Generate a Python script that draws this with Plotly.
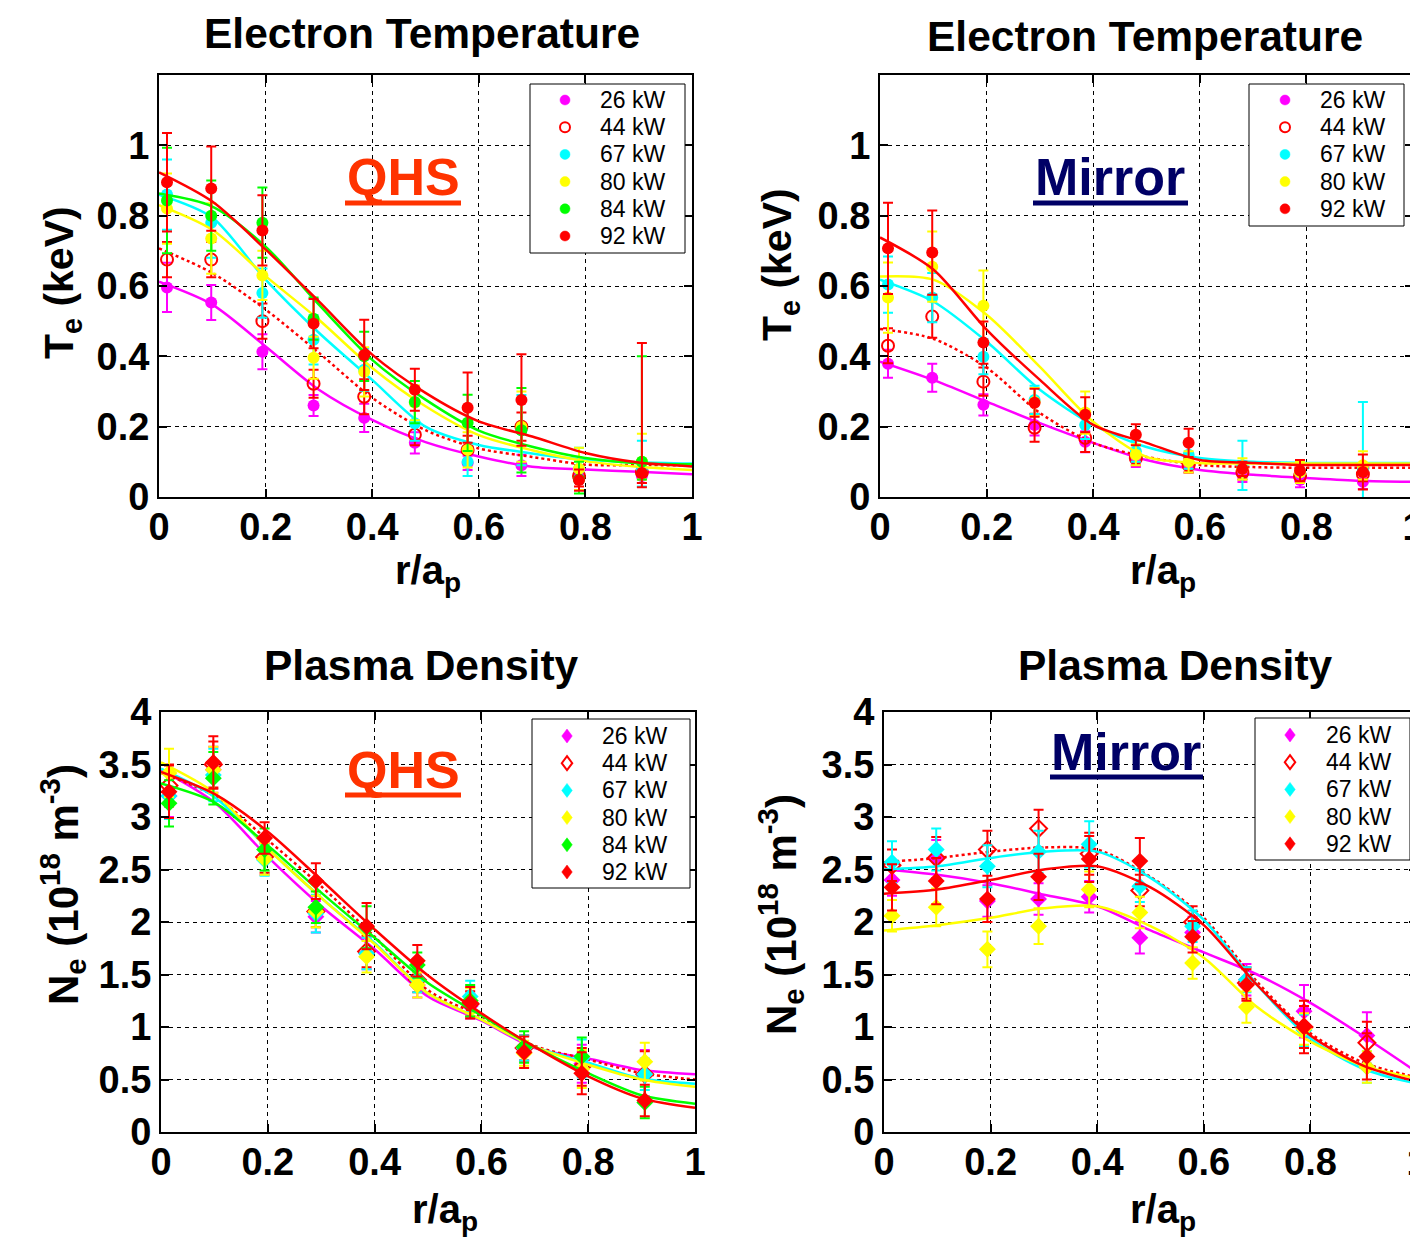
import plotly.graph_objects as go

# page body has an 8px margin; figure is sized to fill the rest of the window
OFF = 8
W, H = 1418 - OFF, 1239 - OFF

# ---------------- data ----------------
series = ["26", "44", "67", "80", "84", "92"]
legend_labels = ["26 kW", "44 kW", "67 kW", "80 kW", "84 kW", "92 kW"]
r_data = [0.015, 0.098, 0.194, 0.29, 0.385, 0.48, 0.579, 0.68, 0.788, 0.906]
r_fit = [0.0, 0.1, 0.2, 0.3, 0.4, 0.5, 0.6, 0.7, 0.8, 0.9, 1.0]

x_ticks = [0, 0.2, 0.4, 0.6, 0.8, 1]
x_ticktext = ["0", "0.2", "0.4", "0.6", "0.8", "1"]
te_ticks = [0, 0.2, 0.4, 0.6, 0.8, 1]
te_ticktext = ["0", "0.2", "0.4", "0.6", "0.8", "1"]
ne_ticks = [0, 0.5, 1, 1.5, 2, 2.5, 3, 3.5, 4]
ne_ticktext = ["0", "0.5", "1", "1.5", "2", "2.5", "3", "3.5", "4"]

# QHS electron temperature (keV)
te_qhs = {
    "26": [0.596, 0.553, 0.413, 0.26, 0.225, 0.154, 0.097, 0.09, 0.06, 0.06],
    "44": [0.675, 0.675, 0.50, 0.322, 0.285, 0.177, 0.134, 0.20, 0.06, 0.07],
    "67": [0.86, 0.78, 0.58, 0.447, 0.362, 0.21, 0.10, 0.19, 0.08, 0.08],
    "80": [0.82, 0.735, 0.63, 0.396, 0.356, 0.268, 0.134, 0.20, 0.08, 0.10],
    "84": [0.843, 0.80, 0.78, 0.507, 0.40, 0.27, 0.211, 0.19, 0.05, 0.10],
    "92": [0.895, 0.877, 0.758, 0.493, 0.404, 0.305, 0.254, 0.276, 0.048, 0.068],
}
te_qhs_err = {
    "26": [0.07, 0.05, 0.05, 0.03, 0.04, 0.03, 0.02, 0.03, 0.02, 0.02],
    "44": [0.05, 0.05, 0.05, 0.04, 0.05, 0.03, 0.04, 0.04, 0.03, 0.03],
    "67": [0.10, 0.10, 0.07, 0.07, 0.06, 0.05, 0.04, 0.10, 0.06, 0.08],
    "80": [0.10, 0.10, 0.07, 0.06, 0.07, 0.05, 0.05, 0.10, 0.06, 0.08],
    "84": [0.15, 0.10, 0.10, 0.06, 0.07, 0.06, 0.08, 0.12, 0.05, 0.30],
    "92": [0.14, 0.12, 0.10, 0.07, 0.10, 0.06, 0.10, 0.13, 0.03, 0.37],
}
te_qhs_errm = {
    "26": [0.07, 0.05, 0.05, 0.03, 0.04, 0.03, 0.02, 0.03, 0.02, 0.02],
    "44": [0.05, 0.05, 0.05, 0.04, 0.05, 0.03, 0.04, 0.04, 0.03, 0.03],
    "67": [0.10, 0.10, 0.07, 0.07, 0.06, 0.05, 0.04, 0.10, 0.06, 0.05],
    "80": [0.10, 0.10, 0.07, 0.06, 0.07, 0.05, 0.05, 0.10, 0.06, 0.05],
    "84": [0.15, 0.10, 0.10, 0.06, 0.07, 0.06, 0.08, 0.12, 0.04, 0.05],
    "92": [0.14, 0.12, 0.10, 0.07, 0.10, 0.06, 0.10, 0.13, 0.03, 0.04],
}
te_qhs_fit = {
    "26": [0.612, 0.547, 0.428, 0.305, 0.219, 0.156, 0.115, 0.086, 0.078, 0.072, 0.065],
    "44": [0.707, 0.637, 0.533, 0.41, 0.282, 0.19, 0.138, 0.114, 0.092, 0.091, 0.090],
    "67": [0.86, 0.795, 0.618, 0.467, 0.333, 0.20, 0.148, 0.124, 0.106, 0.099, 0.095],
    "80": [0.83, 0.76, 0.628, 0.504, 0.367, 0.258, 0.176, 0.133, 0.102, 0.086, 0.077],
    "84": [0.863, 0.826, 0.712, 0.547, 0.39, 0.277, 0.189, 0.143, 0.111, 0.096, 0.093],
    "92": [0.923, 0.84, 0.704, 0.556, 0.405, 0.296, 0.215, 0.172, 0.125, 0.098, 0.087],
}

# Mirror electron temperature (keV)
te_mir = {
    "26": [0.379, 0.339, 0.262, 0.205, 0.157, 0.105, 0.09, 0.063, 0.048, 0.043],
    "44": [0.43, 0.513, 0.328, 0.197, 0.168, 0.11, 0.09, 0.07, 0.06, 0.065],
    "67": [0.604, 0.567, 0.399, 0.276, 0.205, 0.13, 0.12, 0.09, 0.07, 0.08],
    "80": [0.567, 0.655, 0.544, 0.27, 0.24, 0.12, 0.10, 0.08, 0.07, 0.09],
    "92": [0.707, 0.695, 0.439, 0.268, 0.234, 0.177, 0.154, 0.08, 0.075, 0.071],
}
te_mir_err = {
    "26": [0.04, 0.04, 0.03, 0.03, 0.03, 0.02, 0.02, 0.02, 0.02, 0.02],
    "44": [0.05, 0.06, 0.04, 0.04, 0.04, 0.02, 0.02, 0.02, 0.02, 0.02],
    "67": [0.08, 0.07, 0.05, 0.04, 0.04, 0.03, 0.04, 0.07, 0.03, 0.19],
    "80": [0.10, 0.10, 0.10, 0.04, 0.06, 0.03, 0.03, 0.03, 0.03, 0.04],
    "92": [0.13, 0.12, 0.06, 0.04, 0.05, 0.03, 0.04, 0.02, 0.03, 0.05],
}
te_mir_fit = {
    "26": [0.385, 0.333, 0.271, 0.21, 0.154, 0.105, 0.077, 0.063, 0.054, 0.046, 0.043],
    "44": [0.478, 0.45, 0.368, 0.239, 0.154, 0.114, 0.091, 0.085, 0.083, 0.083, 0.083],
    "67": [0.618, 0.556, 0.442, 0.305, 0.205, 0.142, 0.111, 0.10, 0.097, 0.097, 0.097],
    "80": [0.627, 0.618, 0.518, 0.37, 0.214, 0.114, 0.097, 0.095, 0.095, 0.095, 0.095],
    "92": [0.738, 0.647, 0.476, 0.333, 0.205, 0.154, 0.105, 0.097, 0.091, 0.091, 0.091],
}

# QHS plasma density (1e18 m^-3)
ne_qhs = {
    "26": [3.20, 3.45, 2.60, 2.05, 1.70, 1.40, 1.20, 0.80, 0.65, 0.56],
    "44": [3.30, 3.50, 2.62, 2.10, 1.72, 1.45, 1.22, 0.80, 0.62, 0.55],
    "67": [3.20, 3.40, 2.59, 2.08, 1.70, 1.45, 1.29, 0.80, 0.70, 0.55],
    "80": [3.42, 3.45, 2.60, 2.10, 1.67, 1.40, 1.25, 0.75, 0.60, 0.67],
    "84": [3.13, 3.37, 2.69, 2.14, 1.95, 1.59, 1.25, 0.81, 0.72, 0.28],
    "92": [3.24, 3.52, 2.80, 2.39, 1.96, 1.63, 1.23, 0.76, 0.56, 0.30],
}
ne_qhs_err = {
    "26": [0.20, 0.22, 0.15, 0.15, 0.15, 0.12, 0.12, 0.12, 0.18, 0.22],
    "44": [0.20, 0.22, 0.15, 0.15, 0.15, 0.12, 0.12, 0.12, 0.18, 0.22],
    "67": [0.22, 0.25, 0.15, 0.18, 0.15, 0.12, 0.15, 0.12, 0.18, 0.15],
    "80": [0.23, 0.22, 0.15, 0.15, 0.15, 0.12, 0.12, 0.12, 0.18, 0.18],
    "84": [0.22, 0.25, 0.20, 0.15, 0.20, 0.12, 0.15, 0.15, 0.18, 0.15],
    "92": [0.25, 0.25, 0.15, 0.17, 0.22, 0.15, 0.15, 0.15, 0.20, 0.15],
}
ne_qhs_fit = {
    "26": [3.45, 3.14, 2.62, 2.15, 1.74, 1.29, 1.06, 0.80, 0.70, 0.59, 0.55],
    "44": [3.42, 3.20, 2.78, 2.34, 1.86, 1.35, 1.10, 0.82, 0.69, 0.56, 0.50],
    "67": [3.46, 3.19, 2.70, 2.23, 1.80, 1.32, 1.07, 0.81, 0.66, 0.51, 0.46],
    "80": [3.52, 3.23, 2.70, 2.23, 1.79, 1.32, 1.07, 0.81, 0.64, 0.50, 0.43],
    "84": [3.32, 3.14, 2.73, 2.28, 1.85, 1.42, 1.11, 0.81, 0.56, 0.35, 0.27],
    "92": [3.43, 3.22, 2.86, 2.40, 1.93, 1.49, 1.13, 0.81, 0.53, 0.32, 0.23],
}

# Mirror plasma density (1e18 m^-3)
ne_mir = {
    "26": [2.40, 2.60, 2.20, 2.22, 2.24, 1.85, 1.90, 1.45, 1.15, 0.92],
    "44": [2.54, 2.61, 2.69, 2.89, 2.65, 2.30, 2.00, 1.42, 1.00, 0.85],
    "67": [2.57, 2.69, 2.53, 2.67, 2.74, 2.34, 1.96, 1.45, 0.97, 0.62],
    "80": [2.06, 2.14, 1.74, 1.96, 2.31, 2.09, 1.61, 1.19, 0.98, 0.62],
    "92": [2.33, 2.39, 2.22, 2.43, 2.60, 2.58, 1.86, 1.40, 1.00, 0.72],
}
ne_mir_err = {
    "26": [0.15, 0.18, 0.15, 0.15, 0.15, 0.15, 0.15, 0.15, 0.25, 0.22],
    "44": [0.15, 0.20, 0.18, 0.18, 0.20, 0.15, 0.15, 0.15, 0.20, 0.20],
    "67": [0.20, 0.20, 0.20, 0.20, 0.22, 0.15, 0.15, 0.12, 0.15, 0.15],
    "80": [0.15, 0.18, 0.17, 0.17, 0.17, 0.15, 0.15, 0.15, 0.15, 0.15],
    "92": [0.22, 0.22, 0.22, 0.22, 0.22, 0.22, 0.15, 0.15, 0.25, 0.22],
}
ne_mir_fit = {
    "26": [2.50, 2.45, 2.37, 2.26, 2.15, 1.92, 1.71, 1.50, 1.23, 0.91, 0.57],
    "44": [2.57, 2.61, 2.67, 2.71, 2.69, 2.43, 2.04, 1.43, 0.94, 0.66, 0.52],
    "67": [2.50, 2.53, 2.61, 2.67, 2.67, 2.42, 2.02, 1.40, 0.89, 0.60, 0.46],
    "80": [1.92, 1.97, 2.04, 2.13, 2.15, 1.96, 1.66, 1.19, 0.86, 0.63, 0.51],
    "92": [2.27, 2.31, 2.40, 2.50, 2.53, 2.33, 1.97, 1.40, 0.92, 0.63, 0.48],
}

# ---------------- styling ----------------
COL = {"26": "#FF00FF", "44": "#FF0000", "67": "#00FFFF",
       "80": "#FFFF00", "84": "#00FF00", "92": "#FF0000"}
FONT = "Liberation Sans, Arial, sans-serif"


def px(x):
    return (x - OFF) / W


def py(y):
    return 1 - (y - OFF) / H


fig = go.Figure()


def add_panel(n, data, err, fit, diamond, errm=None):
    ax = "" if n == 1 else str(n)
    for s in data:
        col = COL[s]
        filled = s != "44"
        if diamond:
            sym = "diamond" if filled else "diamond-open"
        else:
            sym = "circle" if filled else "circle-open"
        em = errm[s] if errm is not None else err[s]
        fig.add_trace(go.Scatter(
            x=r_data, y=data[s], mode="markers", name=s + " kW",
            xaxis="x" + ax, yaxis="y" + ax, showlegend=False,
            marker=dict(symbol=sym, size=13 if diamond else 12, color=col,
                        line=dict(color=col, width=2 if not filled else 0)),
            error_y=dict(type="data", array=err[s], arrayminus=em,
                         symmetric=False, color=col, thickness=2, width=5),
        ))
        fig.add_trace(go.Scatter(
            x=r_fit, y=fit[s], mode="lines", showlegend=False,
            xaxis="x" + ax, yaxis="y" + ax, hoverinfo="skip",
            line=dict(color=col, width=2.5, shape="spline", smoothing=0.8,
                      dash="dot" if s == "44" else "solid"),
        ))


add_panel(1, te_qhs, te_qhs_err, te_qhs_fit, False, te_qhs_errm)
add_panel(2, te_mir, te_mir_err, te_mir_fit, False)
add_panel(3, ne_qhs, ne_qhs_err, ne_qhs_fit, True)
add_panel(4, ne_mir, ne_mir_err, ne_mir_fit, True)

tickfont = dict(family=FONT, size=38, color="black", weight="bold")


def common_axis():
    return dict(tickfont=tickfont,
                ticks="inside", ticklen=8, tickwidth=2, tickcolor="black",
                showline=True, linewidth=2, linecolor="black", mirror="ticks",
                showgrid=True, gridcolor="black", gridwidth=1, griddash="4px,4px",
                zeroline=False, fixedrange=True, automargin=False,
                ticklabeloverflow="allow")


def xax(x0, x1, anchor):
    d = common_axis()
    d.update(domain=[px(x0), px(x1)], range=[0, 1], anchor=anchor,
             tickvals=x_ticks, ticktext=x_ticktext, ticklabelstandoff=-5)
    return d


def yax(y0, y1, anchor, rng, tv, tt):
    d = common_axis()
    d.update(domain=[py(y1), py(y0)], range=rng, anchor=anchor,
             tickvals=tv, ticktext=tt)
    return d


annots = []
shapes = []


def txt(x, y, text, size, color="black", angle=0, bold=True, xanchor="center"):
    annots.append(dict(x=px(x), y=py(y), xref="paper", yref="paper",
                       text=text, showarrow=False, textangle=angle,
                       xanchor=xanchor, yanchor="middle",
                       font=dict(family=FONT, size=size, color=color,
                                 weight="bold" if bold else "normal")))


def legend_block(box, keys, mx, tx, y0, dy, diamond):
    x0, y_top, x1, y_bot = box
    shapes.append(dict(type="rect", xref="paper", yref="paper",
                       x0=px(x0), x1=px(x1), y0=py(y_bot), y1=py(y_top),
                       line=dict(color="black", width=1), fillcolor="white",
                       layer="above"))
    for i, s in enumerate(keys):
        y = y0 + i * dy
        col = COL[s]
        filled = s != "44"
        if diamond:
            r = 7
            path = "M {},{} L {},{} L {},{} L {},{} Z".format(
                px(mx), py(y - r), px(mx + r * 0.75), py(y),
                px(mx), py(y + r), px(mx - r * 0.75), py(y))
            shapes.append(dict(type="path", xref="paper", yref="paper", path=path,
                               fillcolor=col if filled else "white",
                               line=dict(color=col, width=2 if not filled else 0.5),
                               layer="above"))
        else:
            r = 5
            shapes.append(dict(type="circle", xref="paper", yref="paper",
                               x0=px(mx - r), x1=px(mx + r), y0=py(y + r), y1=py(y - r),
                               fillcolor=col if filled else "white",
                               line=dict(color=col, width=2 if not filled else 0.5),
                               layer="above"))
        txt(tx, y, legend_labels[series.index(s)], 23, bold=False, xanchor="left")


legend_block((530, 84, 685, 253), series, 565, 598, 100, 27.2, False)
legend_block((1249, 84, 1404, 226), ["26", "44", "67", "80", "92"], 1285, 1318, 100, 27.2, False)
legend_block((532, 719, 690, 888), series, 567, 600, 736, 27.2, True)
legend_block((1255, 718, 1410, 860), ["26", "44", "67", "80", "92"], 1290, 1324, 735, 27.2, True)

txt(422, 34, "Electron Temperature", 42.5)
txt(1145, 37, "Electron Temperature", 42.5)
txt(422, 665, "Plasma Density", 42.5)
txt(1175, 665, "Plasma Density", 42.5)
txt(428, 573, "r/a<sub>p</sub>", 40)
txt(1163, 573, "r/a<sub>p</sub>", 40)
txt(445, 1212, "r/a<sub>p</sub>", 40)
txt(1163, 1212, "r/a<sub>p</sub>", 40)
txt(62, 283, "T<sub>e</sub> (keV)", 41, angle=-90)
txt(780, 265, "T<sub>e</sub> (keV)", 41, angle=-90)
txt(62, 885, "N<sub>e</sub> (10<sup>18</sup> m<sup>-3</sup>)", 42, angle=-90)
txt(780, 915, "N<sub>e</sub> (10<sup>18</sup> m<sup>-3</sup>)", 42, angle=-90)
txt(403, 177, "QHS", 52, color="#FF3300")
txt(403, 770, "QHS", 52, color="#FF3300")
txt(1110, 177, "Mirror", 52, color="#000066")
txt(1126, 752, "Mirror", 52, color="#000066")


def uline(x0, x1, y, color):
    shapes.append(dict(type="line", xref="paper", yref="paper",
                       x0=px(x0), x1=px(x1), y0=py(y), y1=py(y),
                       line=dict(color=color, width=5)))


uline(345, 461, 203, "#FF3300")
uline(345, 461, 795, "#FF3300")
uline(1033, 1188, 203, "#000066")
uline(1050, 1203, 777, "#000066")

fig.update_layout(
    template="none",
    width=W, height=H, margin=dict(l=0, r=0, t=0, b=0, pad=0, autoexpand=False),
    paper_bgcolor="white", plot_bgcolor="white",
    xaxis=xax(159, 692, "y"),
    yaxis=yax(75, 497, "x", [0, 1.2], te_ticks, te_ticktext),
    xaxis2=xax(880, 1413, "y2"),
    yaxis2=yax(75, 497, "x2", [0, 1.2], te_ticks, te_ticktext),
    xaxis3=xax(161, 695, "y3"),
    yaxis3=yax(712, 1132, "x3", [0, 4], ne_ticks, ne_ticktext),
    xaxis4=xax(884, 1417, "y4"),
    yaxis4=yax(712, 1132, "x4", [0, 4], ne_ticks, ne_ticktext),
    annotations=annots, shapes=shapes, showlegend=False,
)

fig.write_html("out.html")
